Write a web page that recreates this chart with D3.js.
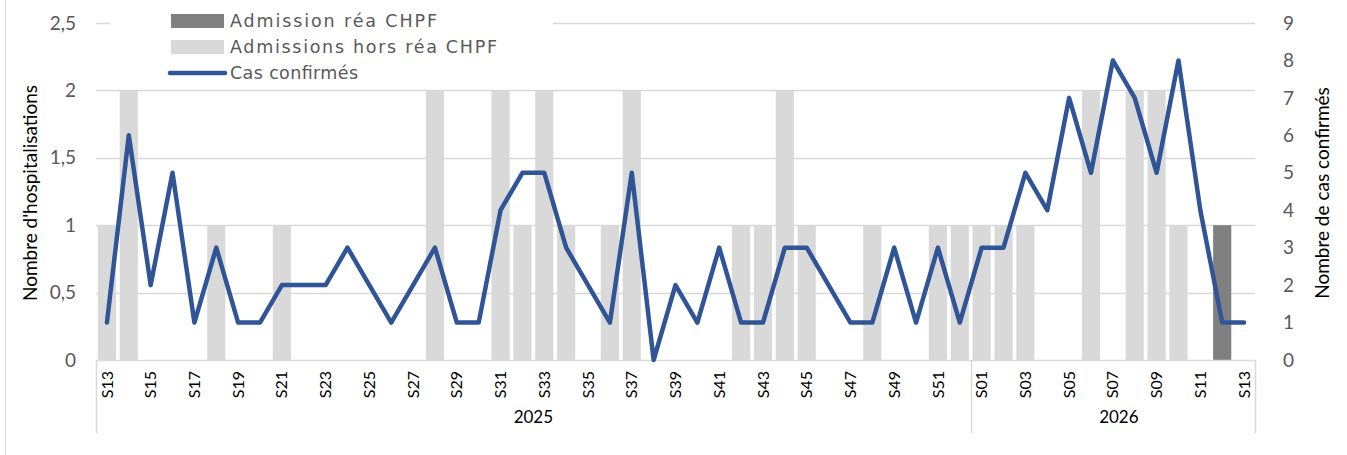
<!DOCTYPE html>
<html>
<head>
<meta charset="utf-8">
<script src="https://cdn.jsdelivr.net/npm/d3@7"></script>
<style>
  body { margin: 0; background: #fff; }
  svg { display: block; }
</style>
</head>
<body>
<svg width="1347" height="455"></svg>
<script>
// --- Data ---
const weeks2025 = ["S13","S14","S15","S16","S17","S18","S19","S20","S21","S22","S23","S24","S25","S26","S27","S28","S29","S30","S31","S32","S33","S34","S35","S36","S37","S38","S39","S40","S41","S42","S43","S44","S45","S46","S47","S48","S49","S50","S51","S52"];
const weeks2026 = ["S01","S02","S03","S04","S05","S06","S07","S08","S09","S10","S11","S12","S13"];
const years = ["2025", "2026"];

// Admissions hors réa CHPF (light bars)
const horsRea2025 = [1,2,0,0,0,1,0,0,1,0,0,0,0,0,0,2,0,0,2,1,2,1,0,1,2,0,0,0,0,1,1,2,1,0,0,1,0,0,1,1];
const horsRea2026 = [1,1,1,0,0,2,0,2,2,1,0,0,0];
// Admission réa CHPF (dark bars)
const rea2025 = new Array(40).fill(0);
const rea2026 = [0,0,0,0,0,0,0,0,0,0,0,1,0];
// Cas confirmés (line, right axis)
const cas2025 = [1,6,2,5,1,3,1,1,2,2,2,3,2,1,2,3,1,1,4,5,5,3,2,1,5,0,2,1,3,1,1,3,3,2,1,1,3,1,3,1];
const cas2026 = [3,3,5,4,7,5,8,7,5,8,4,1,1];

const leftTicks = [0, 0.5, 1, 1.5, 2, 2.5];
const rightTicks = [0,1,2,3,4,5,6,7,8,9];

const rows = [];
weeks2025.forEach((w, i) => rows.push({ key: "2025-" + w, week: w, year: "2025", hors: horsRea2025[i], rea: rea2025[i], cas: cas2025[i] }));
weeks2026.forEach((w, i) => rows.push({ key: "2026-" + w, week: w, year: "2026", hors: horsRea2026[i], rea: rea2026[i], cas: cas2026[i] }));

// --- Layout ---
const svg = d3.select("svg");
const plotLeft = 96, plotRight = 1255, plotTop = 23, plotBottom = 360;
const fontCal = "Lato, 'Open Sans', sans-serif";
const fontVer = "'DejaVu Sans', Verdana, sans-serif";
const gridColor = "#D9D9D9";

// outer chart border (left edge visible)
svg.append("line").attr("x1", 5.5).attr("x2", 5.5).attr("y1", 0).attr("y2", 455)
  .attr("stroke", "#D9D9D9").attr("stroke-width", 1);

const x = d3.scaleBand().domain(rows.map(d => d.key)).range([plotLeft, plotRight])
  .paddingInner(0.17).paddingOuter(0.085);
const y = d3.scaleLinear().domain([0, 2.5]).range([plotBottom, plotTop]);
const y2 = d3.scaleLinear().domain([0, 9]).range([plotBottom, plotTop]);

// gridlines
svg.append("g").selectAll("line").data(leftTicks.filter(t => t > 0)).join("line")
  .attr("x1", plotLeft).attr("x2", plotRight)
  .attr("y1", d => Math.round(y(d)) + 0.5).attr("y2", d => Math.round(y(d)) + 0.5)
  .attr("stroke", gridColor).attr("stroke-width", 1.5);

// bars: stacked hors réa + réa
const bars = svg.append("g");
bars.selectAll(".hors").data(rows.filter(d => d.hors > 0)).join("rect")
  .attr("x", d => x(d.key)).attr("width", x.bandwidth())
  .attr("y", d => y(d.hors)).attr("height", d => y(0) - y(d.hors))
  .attr("fill", "#D9D9D9");
bars.selectAll(".rea").data(rows.filter(d => d.rea > 0)).join("rect")
  .attr("x", d => x(d.key)).attr("width", x.bandwidth())
  .attr("y", d => y(d.hors + d.rea)).attr("height", d => y(d.hors) - y(d.hors + d.rea))
  .attr("fill", "#808080");

// x baseline
svg.append("line").attr("x1", plotLeft).attr("x2", plotRight).attr("y1", plotBottom + 0.5).attr("y2", plotBottom + 0.5)
  .attr("stroke", gridColor).attr("stroke-width", 1.5);

// line
const line = d3.line().x(d => x(d.key) + x.bandwidth() / 2).y(d => y2(d.cas));
svg.append("path").datum(rows).attr("d", line)
  .attr("fill", "none").attr("stroke", "#2F5597").attr("stroke-width", 4.5)
  .attr("stroke-linejoin", "round").attr("stroke-linecap", "round");

// left axis tick labels
svg.append("g").selectAll("text").data(leftTicks).join("text")
  .attr("x", 76).attr("y", d => y(d)).attr("dy", "0.35em")
  .attr("text-anchor", "end").attr("fill", "#595959")
  .style("font-family", fontCal).style("font-size", "19px")
  .text(d => String(d).replace(".", ","));

// right axis tick labels
svg.append("g").selectAll("text").data(rightTicks).join("text")
  .attr("x", 1283).attr("y", d => y2(d)).attr("dy", "0.35em")
  .attr("text-anchor", "start").attr("fill", "#595959")
  .style("font-family", fontCal).style("font-size", "19px")
  .text(d => d);

// week labels (rotated)
svg.append("g").selectAll("text").data(rows.filter((d, i) => i % 2 === 0)).join("text")
  .attr("transform", d => `translate(${x(d.key) + x.bandwidth() / 2},371) rotate(-90)`)
  .attr("text-anchor", "end").attr("dy", "0.35em").attr("fill", "#000")
  .style("font-family", fontCal).style("font-size", "16px")
  .text(d => d.week);

// year group separators and labels
const yearStart = years.map(yr => x(rows.find(d => d.year === yr).key) - x.step() * x.paddingInner() / 2);
const seps = [plotLeft, yearStart[1], plotRight];
svg.append("g").selectAll("line").data(seps).join("line")
  .attr("x1", d => Math.round(d) + 0.5).attr("x2", d => Math.round(d) + 0.5)
  .attr("y1", plotBottom).attr("y2", 433)
  .attr("stroke", gridColor).attr("stroke-width", 1.5);
svg.append("g").selectAll("text").data(years).join("text")
  .attr("x", (d, i) => (seps[i] + seps[i + 1]) / 2 + (i === 1 ? 6 : 0)).attr("y", 423)
  .attr("text-anchor", "middle").attr("fill", "#000")
  .style("font-family", fontCal).style("font-size", "17px")
  .text(d => d);

// axis titles
svg.append("text").attr("transform", "translate(30,193) rotate(-90)")
  .attr("text-anchor", "middle").attr("dy", "0.35em").attr("fill", "#000")
  .style("font-family", fontCal).style("font-size", "19px")
  .text("Nombre d'hospitalisations");
svg.append("text").attr("transform", "translate(1322,193) rotate(-90)")
  .attr("text-anchor", "middle").attr("dy", "0.35em").attr("fill", "#000")
  .style("font-family", fontCal).style("font-size", "19px")
  .text("Nombre de cas confirmés");

// legend
const legend = svg.append("g");
legend.append("rect").attr("x", 110).attr("y", 2).attr("width", 443).attr("height", 84).attr("fill", "#fff");
const legItems = [
  { label: "Admission réa CHPF", type: "rect", color: "#808080", w: 207 },
  { label: "Admissions hors réa CHPF", type: "rect", color: "#D9D9D9", w: 267 },
  { label: "Cas confirmés", type: "line", color: "#2F5597", w: 128 }
];
legItems.forEach((it, i) => {
  const cy = 21 + i * 26;
  if (it.type === "rect") {
    legend.append("rect").attr("x", 171).attr("y", cy - 7).attr("width", 53).attr("height", 14).attr("fill", it.color);
  } else {
    legend.append("line").attr("x1", 170).attr("x2", 225).attr("y1", cy).attr("y2", cy)
      .attr("stroke", it.color).attr("stroke-width", 4.5).attr("stroke-linecap", "round");
  }
  legend.append("text").attr("x", 230).attr("y", cy).attr("dy", "0.35em").attr("fill", "#595959")
    .attr("textLength", it.w).attr("lengthAdjust", "spacing")
    .style("font-family", fontVer).style("font-size", "17.5px")
    .text(it.label);
});
</script>
</body>
</html>
